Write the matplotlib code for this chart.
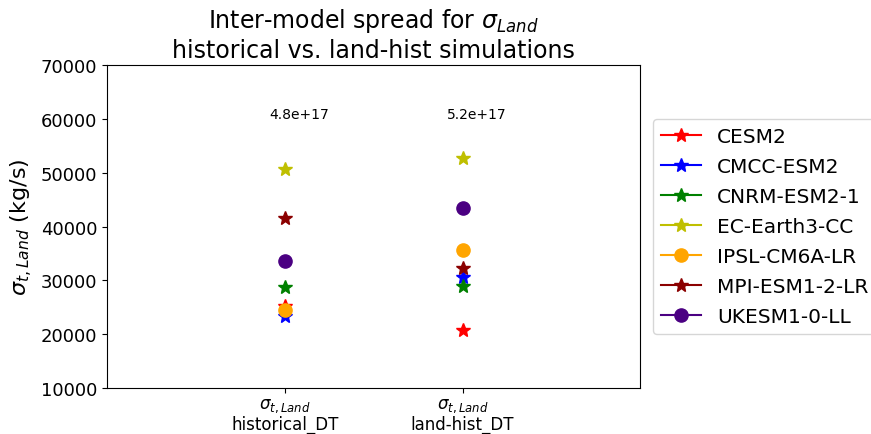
import matplotlib
matplotlib.use("Agg")
import matplotlib.pyplot as plt

models = ["CESM2", "CMCC-ESM2", "CNRM-ESM2-1", "EC-Earth3-CC",
          "IPSL-CM6A-LR", "MPI-ESM1-2-LR", "UKESM1-0-LL"]
colors = ["r", "b", "g", "y", "orange", "darkred", "indigo"]
markers = ["*", "*", "*", "*", "o", "*", "o"]

historical = [25200, 23400, 28800, 50700, 24400, 41500, 33500]
landhist = [20800, 30600, 29000, 52700, 35600, 32300, 43400]

spread_labels = ["4.8e+17", "5.2e+17"]
xlabels = ["$\\sigma_{t,Land}$\nhistorical_DT", "$\\sigma_{t,Land}$\nland-hist_DT"]

fig = plt.figure(figsize=(8.71, 4.35), dpi=100)
ax = fig.add_axes([0.123, 0.106, 0.612, 0.742])

for i, m in enumerate(models):
    ms = 9.5 if markers[i] == "o" else 10
    ax.plot([1, 2], [historical[i], landhist[i]], linestyle="None",
            marker=markers[i], color=colors[i], markersize=ms)
    # legend handle with line
    ax.plot([], [], linestyle="-", marker=markers[i], color=colors[i],
            markersize=ms, label=m)

for x, s in zip([1, 2], spread_labels):
    ax.text(x + 0.08, 61000, s, ha="center", va="center", fontsize=10)

ax.set_xlim(0, 3)
ax.set_ylim(10000, 70000)
ax.set_xticks([1, 2])
ax.set_xticklabels(xlabels, fontsize=12, linespacing=1.1)
ax.tick_params(axis="x", pad=2)
ax.tick_params(axis="y", labelsize=13)
ax.set_ylabel("$\\sigma_{t,Land}$ (kg/s)", fontsize=16)
ax.set_title("Inter-model spread for $\\sigma_{Land}$\nhistorical vs. land-hist simulations",
             fontsize=17)
ax.legend(loc="center left", bbox_to_anchor=(1.005, 0.5), fontsize=14.5,
          labelspacing=0.55)

plt.savefig("out.png", dpi=100)
